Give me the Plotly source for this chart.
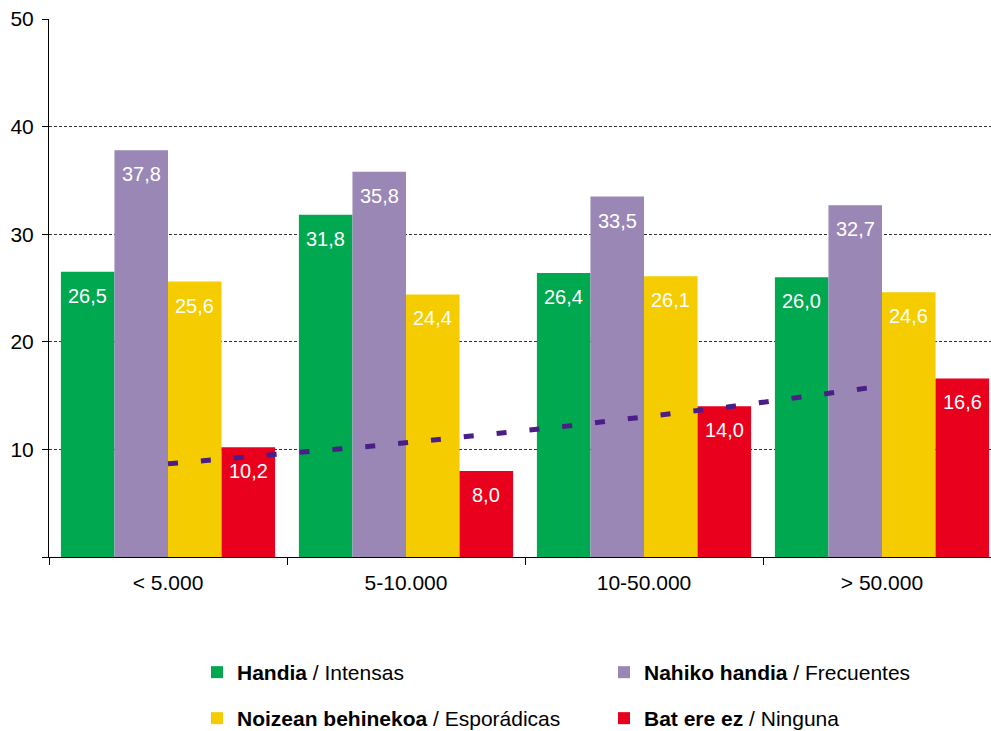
import numpy as np
import plotly.graph_objects as go

categories = ["< 5.000", "5-10.000", "10-50.000", "> 50.000"]
series_names = [
    "<b>Handia</b> / Intensas",
    "<b>Nahiko handia</b> / Frecuentes",
    "<b>Noizean behinekoa</b> / Esporádicas",
    "<b>Bat ere ez</b> / Ninguna",
]
handia = [26.5, 31.8, 26.4, 26.0]
nahiko_handia = [37.8, 35.8, 33.5, 32.7]
noizean = [25.6, 24.4, 26.1, 24.6]
bat_ere_ez = [10.2, 8.0, 14.0, 16.6]
y_ticks = [0, 10, 20, 30, 40, 50]

colors = ["#00A84F", "#9A87B6", "#F5CC00", "#E8001C"]
trend_color = "#4B1E87"
FONT = "Liberation Sans, Arial, sans-serif"

all_series = [handia, nahiko_handia, noizean, bat_ere_ez]
legend_ids = ["legend", "legend", "legend2", "legend2"]
xpos = list(range(len(categories)))

fig = go.Figure()
for name, vals, col, lg in zip(series_names, all_series, colors, legend_ids):
    fig.add_trace(go.Bar(x=xpos, y=vals, name=name, marker=dict(color=col, line=dict(width=0)),
                         legend=lg, hoverinfo="y"))

# exponential trendline of the "Bat ere ez" series (least squares on log values)
xi = np.arange(len(bat_ere_ez), dtype=float)
b, a = np.polyfit(xi, np.log(bat_ere_ez), 1)
xt = np.linspace(xi[0], xi[-1], 200)
yt = np.exp(a + b * xt)
fig.add_trace(go.Scatter(x=xt, y=yt, mode="lines", showlegend=False, hoverinfo="skip",
                         line=dict(color=trend_color, width=5, dash="10px,23px")))

# value labels inside the bars, near the top
n = len(all_series)
group_w = 0.9
bw = group_w / n
for j, vals in enumerate(all_series):
    for i, v in enumerate(vals):
        fig.add_annotation(x=i + (j - (n - 1) / 2) * bw, y=v, xref="x", yref="y",
                           text=f"{v:.1f}".replace(".", ","), showarrow=False,
                           yanchor="top", yshift=-11,
                           font=dict(family=FONT, size=20, color="white"))

leg_common = dict(orientation="h", x=(197 - 49) / 942, xanchor="left", yref="container",
                  yanchor="top", entrywidth=362,
                  font=dict(family=FONT, size=21, color="black"), bgcolor="rgba(0,0,0,0)")

fig.update_layout(
    width=991, height=731,
    margin=dict(l=49, r=0, t=19, b=174, autoexpand=False),
    paper_bgcolor="white", plot_bgcolor="white",
    barmode="group", bargap=0.1, bargroupgap=0,
    font=dict(family=FONT, size=20, color="black"),
    legend=dict(leg_common, y=1 - 652 / 731),
    legend2=dict(leg_common, y=1 - 698 / 731),
    xaxis=dict(range=[-0.5, 3.458], tickmode="array", tickvals=xpos, ticktext=categories,
               ticks="", showgrid=False, zeroline=False, showline=True, linecolor="black",
               linewidth=1, ticklabelstandoff=7,
               tickfont=dict(family=FONT, size=21, color="black"),
               minor=dict(tickmode="linear", tick0=-0.5, dtick=1, ticks="outside",
                          ticklen=7, tickcolor="black", tickwidth=1, showgrid=False)),
    yaxis=dict(range=[0, 50], tickmode="array", tickvals=y_ticks,
               ticktext=["" if t == 0 else str(t) for t in y_ticks],
               ticks="outside", ticklen=6, tickcolor="black", showline=True,
               linecolor="black", linewidth=1, zeroline=False, ticklabelstandoff=4,
               showgrid=True, gridcolor="#333333", gridwidth=1, griddash="3px,2px",
               tickfont=dict(family=FONT, size=21, color="black")),
)

fig.write_html("out.html", config={"displayModeBar": False},
               post_script="document.body.style.margin='0';")
